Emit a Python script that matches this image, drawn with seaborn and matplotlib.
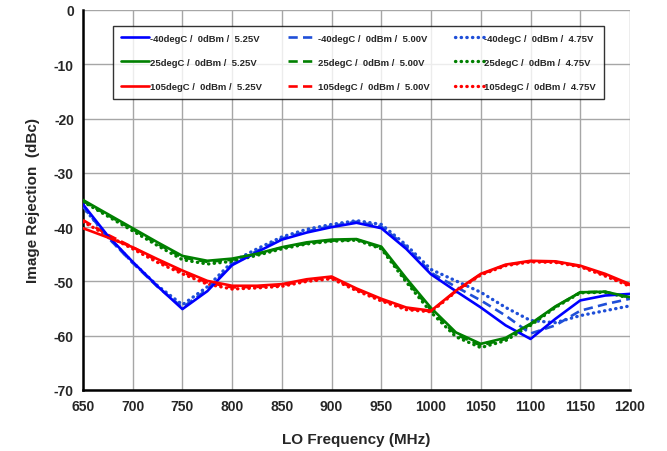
import numpy as np
import pandas as pd
import seaborn as sns
import matplotlib
matplotlib.use("Agg")
import matplotlib.pyplot as plt
from matplotlib.ticker import MultipleLocator

# DATA ---------------------------------------------------------------------------------------------
freq = [650, 675, 700, 725, 750, 775, 800, 825, 850, 875, 900, 925,
        950, 975, 1000, 1025, 1050, 1075, 1100, 1125, 1150, 1175, 1200]

m40_525 = [-35.8, -41.6, -46.4, -50.9, -55.1, -51.8, -47.0, -44.6, -42.3, -41.0, -40.0, -39.2,
           -40.2, -44.0, -48.7, -51.8, -54.8, -58.1, -60.6, -56.9, -53.5, -52.6, -52.3]
m40_500 = [-36.2, -41.9, -46.6, -51.0, -54.8, -51.5, -46.8, -44.4, -42.1, -40.8, -39.8, -39.0,
           -39.9, -43.6, -48.4, -51.0, -53.5, -56.3, -59.6, -58.1, -55.4, -54.2, -53.2]
m40_475 = [-36.3, -41.8, -46.5, -50.8, -54.3, -51.0, -46.4, -44.0, -41.8, -40.4, -39.5, -38.8,
           -39.5, -43.3, -47.8, -49.9, -52.0, -54.8, -57.2, -57.6, -56.3, -55.4, -54.5]

p25_525 = [-35.0, -37.6, -40.2, -42.8, -45.3, -46.2, -45.8, -44.9, -43.7, -42.8, -42.3, -42.2,
           -43.6, -49.4, -54.9, -59.4, -61.5, -60.4, -57.8, -54.6, -52.0, -51.9, -52.9]
p25_500 = [-35.2, -37.8, -40.4, -43.1, -45.6, -46.4, -46.0, -45.0, -43.8, -43.0, -42.5, -42.3,
           -43.8, -49.8, -55.3, -59.8, -61.8, -60.6, -57.9, -54.7, -52.0, -51.9, -53.0]
p25_475 = [-35.3, -38.0, -40.7, -43.4, -46.0, -46.8, -46.3, -45.2, -44.0, -43.1, -42.6, -42.4,
           -44.0, -50.1, -55.7, -60.2, -62.2, -60.9, -58.1, -54.8, -52.1, -52.0, -53.1]

p105_525 = [-40.2, -41.9, -43.7, -45.9, -48.0, -49.9, -50.8, -50.8, -50.5, -49.6, -49.1, -51.3,
            -53.2, -54.8, -55.4, -51.7, -48.6, -46.9, -46.2, -46.3, -47.1, -48.6, -50.5]
p105_500 = [-38.7, -41.4, -43.7, -46.2, -48.3, -50.2, -51.1, -51.0, -50.7, -49.8, -49.3, -51.5,
            -53.4, -55.0, -55.5, -51.8, -48.7, -47.0, -46.3, -46.4, -47.2, -48.8, -50.7]
p105_475 = [-39.0, -41.6, -44.0, -46.5, -48.6, -50.5, -51.4, -51.2, -50.9, -50.0, -49.5, -51.7,
            -53.6, -55.2, -55.6, -51.9, -48.8, -47.1, -46.4, -46.5, -47.3, -49.0, -50.9]

labels = ['-40degC /  0dBm /  5.25V', '25degC /  0dBm /  5.25V', '105degC /  0dBm /  5.25V',
          '-40degC /  0dBm /  5.00V', '25degC /  0dBm /  5.00V', '105degC /  0dBm /  5.00V',
          '-40degC /  0dBm /  4.75V', '25degC /  0dBm /  4.75V', '105degC /  0dBm /  4.75V']
series = [m40_525, p25_525, p105_525, m40_500, p25_500, p105_500, m40_475, p25_475, p105_475]
colors = ['#0000FF', '#008000', '#FF0000', '#1F4FD8', '#008000', '#FF0000', '#1F4FD8', '#008000', '#FF0000']

# PLOT ---------------------------------------------------------------------------------------------
sns.set_style("white")
plt.rcParams['font.family'] = ['Liberation Sans', 'DejaVu Sans']
plt.rcParams['font.weight'] = 'bold'
plt.rcParams['axes.unicode_minus'] = False

fig = plt.figure(figsize=(6.67, 4.52), dpi=100)
ax = fig.add_axes([0.1244, 0.135, 0.8201, 0.8407])

for i, (vals, lab, col) in enumerate(zip(series, labels, colors)):
    kind = i // 3  # 0 solid, 1 dashed, 2 dotted
    df = pd.DataFrame({'freq': freq, 'ir': vals})
    if kind == 0:
        style = dict(linestyle='-', linewidth=1.9)
    elif kind == 1:
        style = dict(linestyle=(0, (3.5, 2.0)), linewidth=1.9)
    else:
        style = dict(linestyle=(0, (0.1, 1.6)), linewidth=2.4, dash_capstyle='round')
    sns.lineplot(data=df, x='freq', y='ir', color=col, label=lab, ax=ax, zorder=3 - kind * 0.1, **style)

ax.set_xlim(650, 1200)
ax.set_ylim(-70, 0)
ax.xaxis.set_major_locator(MultipleLocator(50))
ax.yaxis.set_major_locator(MultipleLocator(10))
ax.yaxis.set_minor_locator(MultipleLocator(5))
ax.grid(True, which='major', color='#a6a6a6', linewidth=1.0, zorder=0)
ax.set_axisbelow(True)

for s in ['top', 'right']:
    ax.spines[s].set_visible(False)
for s in ['left', 'bottom']:
    ax.spines[s].set_color('black')
    ax.spines[s].set_linewidth(1.8)

ax.tick_params(axis='both', which='major', direction='inout', length=7, width=1.5,
               labelsize=10, color='black', pad=3)
ax.tick_params(axis='y', which='minor', direction='inout', length=6, width=1.5, color='black')
for t in ax.get_xticklabels() + ax.get_yticklabels():
    t.set_fontweight('bold')

ax.set_xlabel('LO Frequency (MHz)', fontsize=11, fontweight='bold', labelpad=14)
ax.set_ylabel('Image Rejection  (dBc)', fontsize=11, fontweight='bold', labelpad=10)

handles, labs = ax.get_legend_handles_labels()
leg = ax.legend(handles, labs, ncol=3, loc='lower left', mode='expand',
                bbox_to_anchor=(0.055, 0.766, 0.898, 0.187), borderaxespad=0,
                prop={'weight': 'bold', 'size': 6.8}, frameon=True, fancybox=False,
                edgecolor='black', handlelength=3.0, handletextpad=0.1,
                labelspacing=1.6, borderpad=0.85, columnspacing=1.0)
leg.get_frame().set_linewidth(1.0)

fig.savefig('out.png', dpi=100)
